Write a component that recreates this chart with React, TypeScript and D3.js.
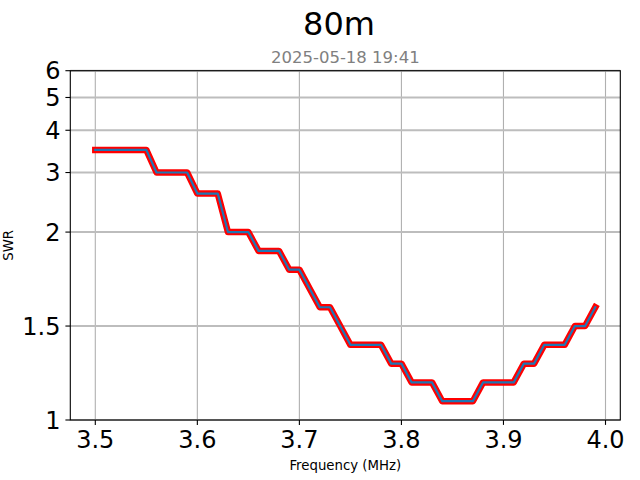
import React from "react";
import * as d3 from "d3";

const titleText = "80m";
const subtitleText = "2025-05-18 19:41";
const xLabel = "Frequency (MHz)";
const yLabel = "SWR";

const freqs = [
  3.5, 3.51, 3.52, 3.53, 3.54, 3.55, 3.56, 3.57, 3.58, 3.59,
  3.6, 3.61, 3.62, 3.63, 3.64, 3.65, 3.66, 3.67, 3.68, 3.69,
  3.7, 3.71, 3.72, 3.73, 3.74, 3.75, 3.76, 3.77, 3.78, 3.79,
  3.8, 3.81, 3.82, 3.83, 3.84, 3.85, 3.86, 3.87, 3.88, 3.89,
  3.9, 3.91, 3.92, 3.93, 3.94, 3.95, 3.96, 3.97, 3.98, 3.99,
];
const swr = [
  3.5, 3.5, 3.5, 3.5, 3.5, 3.5, 3.0, 3.0, 3.0, 3.0,
  2.6, 2.6, 2.6, 2.0, 2.0, 2.0, 1.9, 1.9, 1.9, 1.8,
  1.8, 1.7, 1.6, 1.6, 1.5, 1.4, 1.4, 1.4, 1.4, 1.3,
  1.3, 1.2, 1.2, 1.2, 1.1, 1.1, 1.1, 1.1, 1.2, 1.2,
  1.2, 1.2, 1.3, 1.3, 1.4, 1.4, 1.4, 1.5, 1.5, 1.6,
];
const xTicks = [3.5, 3.6, 3.7, 3.8, 3.9, 4.0];
const xTickLabels = ["3.5", "3.6", "3.7", "3.8", "3.9", "4.0"];
const yTicks = [1, 1.5, 2, 3, 4, 5, 6];
const yTickLabels = ["1", "1.5", "2", "3", "4", "5", "6"];

// matplotlib-like symlog transform (linthresh=2, linscale=1, base 10)
const LINTHRESH = 2;
const LINSCALE_ADJ = 1 / (1 - 1 / 10);
const symlogT = (v: number) =>
  v <= LINTHRESH
    ? v * LINSCALE_ADJ
    : LINTHRESH * (LINSCALE_ADJ + Math.log10(v / LINTHRESH));

const W = 640;
const H = 480;
const L = 70.3;
const R = 620.3;
const T = 70.7;
const B = 420;

export default function App() {
  const xDataMin = d3.min(freqs)!;
  const xDataMax = d3.max(freqs)!;
  const pad = (xDataMax - xDataMin) * 0.05;
  const x = d3.scaleLinear().domain([xDataMin - pad, xDataMax + pad]).range([L, R]);
  const yLin = d3.scaleLinear().domain([symlogT(1), symlogT(6)]).range([B, T]);
  const y = (v: number) => yLin(symlogT(v));

  const pts: [number, number][] = freqs.map((f, i) => [f, swr[i]]);
  const line = d3
    .line<[number, number]>()
    .x((d) => x(d[0]))
    .y((d) => y(d[1]));
  const path = line(pts) || "";

  const font = "DejaVu Sans, sans-serif";

  return (
    <svg
      width={W}
      height={H}
      style={{ position: "absolute", left: 0, top: 0, background: "#fff" }}
      fontFamily={font}
    >
      <rect x={0} y={0} width={W} height={H} fill="#fff" />
      {/* grid */}
      {xTicks.map((t) => (
        <line key={"gx" + t} x1={x(t)} x2={x(t)} y1={T} y2={B} stroke="#b0b0b0" strokeWidth={1.1} />
      ))}
      {yTicks.map((t) => (
        <line key={"gy" + t} x1={L} x2={R} y1={y(t)} y2={y(t)} stroke="#bdbdbd" strokeWidth={2} />
      ))}
      {/* data */}
      <g clipPath="url(#clip)">
        <path d={path} fill="none" stroke="#ff0000" strokeWidth={6.5} strokeLinejoin="round" strokeLinecap="square" />
        <path d={path} fill="none" stroke="#1f77b4" strokeWidth={2.2} strokeLinejoin="round" strokeLinecap="square" />
      </g>
      <defs>
        <clipPath id="clip">
          <rect x={L} y={T} width={R - L} height={B - T} />
        </clipPath>
      </defs>
      {/* frame */}
      <rect x={L} y={T} width={R - L} height={B - T} fill="none" stroke="#000" strokeWidth={1.1} />
      {/* x ticks */}
      {xTicks.map((t, i) => (
        <g key={"xt" + t}>
          <line x1={x(t)} x2={x(t)} y1={B} y2={B + 4.9} stroke="#000" strokeWidth={1.1} />
          <text x={x(t)} y={B + 9.8} dy="0.76em" textAnchor="middle" fontSize={24} fill="#000">
            {xTickLabels[i]}
          </text>
        </g>
      ))}
      {/* y ticks */}
      {yTicks.map((t, i) => (
        <g key={"yt" + t}>
          <line x1={L - 4.9} x2={L} y1={y(t)} y2={y(t)} stroke="#000" strokeWidth={1.1} />
          <text x={L - 9.8} y={y(t)} dy="0.36em" textAnchor="end" fontSize={24} fill="#000">
            {yTickLabels[i]}
          </text>
        </g>
      ))}
      {/* labels */}
      <text x={(L + R) / 2} y={469.5} textAnchor="middle" fontSize={13.3} fill="#000">
        {xLabel}
      </text>
      <text
        transform={`translate(12.5,${(T + B) / 2}) rotate(-90)`}
        textAnchor="middle"
        fontSize={13.3}
        fill="#000"
      >
        {yLabel}
      </text>
      <text x={339} y={35} textAnchor="middle" fontSize={32} fill="#000">
        {titleText}
      </text>
      <text x={(L + R) / 2} y={62.5} textAnchor="middle" fontSize={16.5} fill="#808080">
        {subtitleText}
      </text>
    </svg>
  );
}
